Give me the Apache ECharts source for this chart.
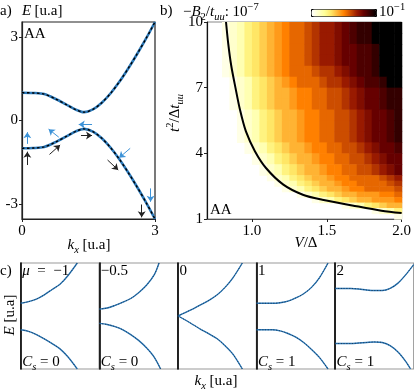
<!DOCTYPE html>
<html>
<head>
<meta charset="utf-8">
<script src="https://cdn.jsdelivr.net/npm/echarts@6.0.0/dist/echarts.min.js"></script>
<style>
  html, body { margin: 0; padding: 0; background: #fff; }
  #main { width: 414px; height: 390px; }
</style>
</head>
<body>
<div id="main"></div>
<script>
// ---- panel a : bands E(kx) ----
var kA = [0, 0.25, 0.5, 0.75, 1.0, 1.2, 1.4, 1.6, 1.8, 2.0, 2.2, 2.4, 2.6, 2.8, 3.0];
var bandUp = [1.0, 0.99, 0.95, 0.78, 0.57, 0.40, 0.30, 0.40, 0.64, 0.98, 1.40, 1.88, 2.40, 2.95, 3.54];
var bandDown = [-1.0, -0.99, -0.95, -0.78, -0.57, -0.40, -0.30, -0.40, -0.64, -0.98, -1.40, -1.88, -2.40, -2.95, -3.54];
// arrows: [k0, E0, k1, E1]
var blueArrows = [[0.12, -0.84, 0.12, -0.42], [0.83, -0.60, 0.60, -0.31], [1.58, -0.14, 1.28, -0.14], [2.44, -1.00, 2.19, -1.34], [2.90, -2.44, 2.90, -2.92]];
var blackArrows = [[0.12, -1.60, 0.12, -1.12], [0.62, -1.22, 0.86, -0.88], [1.33, -0.54, 1.58, -0.54], [1.93, -1.42, 2.17, -1.78], [2.70, -3.02, 2.70, -3.48]];

// ---- panel b : -B2/t_uu map (log10), levels 0..20, '.' = no data ----
var vEdges = [0.70, 0.75, 0.80, 0.85, 0.90, 0.95, 1.00, 1.05, 1.10, 1.15, 1.20, 1.25, 1.30, 1.35, 1.40, 1.45, 1.50, 1.55, 1.60, 1.65, 1.70, 1.75, 1.80, 1.85, 1.90, 1.95, 2.00];
var tEdges = [10, 9.5, 9, 8.5, 8, 7.5, 7, 6.5, 6, 5.5, 5, 4.5, 4, 3.5, 3, 2.75, 2.5, 2.25, 2, 1.75, 1.5, 1.25, 1];
var heatRows = [
  "..12356789abbcdeefghiikkkk",
  "..12356789abbcdeefghiikkkk",
  "..12356789abbcdeefgghhikkk",
  "..12356789abbcdeefgghhikkk",
  "..12356789abbbcddefghhikkk",
  "...12356789abbbcddefghhikk",
  "...123567889aabbccdefgghii",
  "...123567889aabbccdefgghii",
  "....123567889aabbccdefgghi",
  "....123567889aabbccdefgghi",
  "....123567889aabbccdefgghi",
  ".....123567889aabbccdefggh",
  "......123567889aabbccdefgg",
  ".......123567889aabbccdefg",
  "........123567889aabbbbcde",
  ".........123567889aabbbbcd",
  "..........123567889aabbbbc",
  "............12356788999aab",
  "..............12356788999a",
  "..................12356788",
  "......................1235",
  ".........................1"
];
var curveV = [0.827, 0.842, 0.862, 0.89, 0.92, 0.96, 1.02, 1.094, 1.21, 1.34, 1.47, 1.67, 1.865, 2.0];
var curveT = [10, 9, 8, 7, 6, 5, 4.1, 3.33, 2.57, 2.11, 1.88, 1.62, 1.38, 1.27];
var cmap = ['#ffffff', '#ffffcc', '#ffff99', '#ffe666', '#ffb333', '#ff8000', '#cc4d00', '#991a00', '#660000', '#330000', '#000000'];

// ---- panel c : five small band plots ----
var muLabels = ['−1', '−0.5', '0', '1', '2'];
var chernLabels = ['0', '0', '', '1', '1'];
var cKUp = [
  [0, 0.1, 0.2, 0.3, 0.4, 0.5, 0.6, 0.72],
  [0, 0.1, 0.2, 0.3, 0.4, 0.5, 0.6, 0.7, 0.76],
  [0, 0.1, 0.2, 0.3, 0.4, 0.5, 0.6, 0.7, 0.82],
  [0, 0.1, 0.2, 0.3, 0.4, 0.5, 0.6, 0.7, 0.8, 0.91],
  [0, 0.1, 0.2, 0.3, 0.4, 0.5, 0.6, 0.7, 0.8, 0.9, 1.0]
];
var cEUp = [
  [0.24, 0.27, 0.32, 0.40, 0.50, 0.60, 0.76, 1.0],
  [0.13, 0.15, 0.20, 0.26, 0.33, 0.44, 0.58, 0.78, 1.0],
  [0, 0.07, 0.14, 0.22, 0.30, 0.40, 0.54, 0.72, 1.0],
  [0.24, 0.24, 0.24, 0.25, 0.28, 0.34, 0.42, 0.54, 0.72, 1.0],
  [0.52, 0.52, 0.52, 0.51, 0.49, 0.48, 0.48, 0.52, 0.62, 0.78, 0.97]
];
var cKLo = [
  [0, 0.1, 0.2, 0.3, 0.4, 0.5, 0.6, 0.72],
  [0, 0.1, 0.2, 0.3, 0.4, 0.5, 0.6, 0.7, 0.78],
  [0, 0.1, 0.2, 0.3, 0.4, 0.5, 0.6, 0.7, 0.82],
  [0, 0.1, 0.2, 0.3, 0.4, 0.5, 0.6, 0.7, 0.8, 0.91],
  [0, 0.1, 0.2, 0.3, 0.4, 0.5, 0.6, 0.7, 0.8, 0.9, 0.96]
];
var cELo = [
  [-0.26, -0.29, -0.35, -0.43, -0.52, -0.62, -0.77, -1.0],
  [-0.14, -0.16, -0.20, -0.26, -0.35, -0.46, -0.60, -0.78, -1.0],
  [0, -0.08, -0.17, -0.26, -0.34, -0.43, -0.56, -0.72, -1.0],
  [-0.26, -0.26, -0.26, -0.28, -0.33, -0.40, -0.50, -0.63, -0.78, -1.0],
  [-0.52, -0.52, -0.52, -0.51, -0.50, -0.49, -0.50, -0.56, -0.68, -0.86, -1.0]
];

var F = 'Liberation Serif';
var BLUE = '#2b78b8';

function zip(xs, ys) {
  return xs.map(function (x, i) { return [x, ys[i]]; });
}

var chart = echarts.init(document.getElementById('main'));

var grids = [
  { left: 22, top: 22, width: 133, height: 197, show: true, borderColor: '#222', borderWidth: 1.2 },
  { left: 207, top: 22, width: 199, height: 197, show: true, borderColor: '#888', borderWidth: 1 }
];
var xAxes = [
  {
    gridIndex: 0, type: 'value', min: 0, max: 3,
    axisLine: { onZero: false, lineStyle: { color: '#222', width: 1.2 } },
    axisTick: { customValues: [0, 3], length: 3, lineStyle: { color: '#222' } },
    axisLabel: { customValues: [0, 3], fontSize: 15, fontFamily: F, color: '#000', margin: 5 },
    splitLine: { show: false }
  },
  {
    gridIndex: 1, type: 'value', min: 0.7, max: 2.0,
    axisLine: { onZero: false, lineStyle: { color: '#555', width: 1 } },
    axisTick: { customValues: [1, 1.5, 2], length: 3, lineStyle: { color: '#222' } },
    axisLabel: { customValues: [1, 1.5, 2], fontSize: 15, fontFamily: F, color: '#000', margin: 5,
      formatter: function (v) { return v.toFixed(1); } },
    splitLine: { show: false }
  }
];
var yAxes = [
  {
    gridIndex: 0, type: 'value', min: -3.54, max: 3.54,
    axisLine: { onZero: false, lineStyle: { color: '#222', width: 1.2 } },
    axisTick: { customValues: [-3, 0, 3], length: 3, lineStyle: { color: '#222' } },
    axisLabel: { customValues: [-3, 0, 3], fontSize: 15, fontFamily: F, color: '#000', margin: 4 },
    splitLine: { show: false }
  },
  {
    gridIndex: 1, type: 'value', min: 1, max: 10,
    axisLine: { onZero: false, lineStyle: { color: '#111', width: 1.2 } },
    axisTick: { customValues: [1, 4, 7, 10], length: 3, lineStyle: { color: '#222' } },
    axisLabel: { customValues: [1, 4, 7, 10], fontSize: 15, fontFamily: F, color: '#000', margin: 4 },
    splitLine: { show: false }
  }
];
for (var i = 0; i < 5; i++) {
  grids.push({ left: 20.7 + 78.6 * i, top: 263, width: 78.6, height: 106, show: true, borderColor: '#999', borderWidth: 1.2 });
  xAxes.push({ gridIndex: i + 2, type: 'value', min: 0, max: 1, axisLine: { show: false, onZero: false },
    axisTick: { show: false }, axisLabel: { show: false }, splitLine: { show: false } });
  yAxes.push({ gridIndex: i + 2, type: 'value', min: -1, max: 1,
    axisLine: { onZero: false, lineStyle: { color: '#000', width: 1.6 } },
    axisTick: { show: false }, axisLabel: { show: false }, splitLine: { show: false } });
}

var series = [];
// panel a bands: blue line with a black dashed line on top
[bandUp, bandDown].forEach(function (b) {
  series.push({ type: 'line', xAxisIndex: 0, yAxisIndex: 0, data: zip(kA, b), smooth: 0.3, showSymbol: false,
    lineStyle: { color: BLUE, width: 2.6 }, z: 3 });
  series.push({ type: 'line', xAxisIndex: 0, yAxisIndex: 0, data: zip(kA, b), smooth: 0.3, showSymbol: false,
    lineStyle: { color: '#000', width: 1.4, type: [2.5, 2.5] }, z: 4 });
});
[[blueArrows, '#3d93d8'], [blackArrows, '#222']].forEach(function (p) {
  series.push({
    type: 'lines', coordinateSystem: 'cartesian2d', xAxisIndex: 0, yAxisIndex: 0,
    symbol: ['none', 'arrow'], symbolSize: 6,
    lineStyle: { color: p[1], width: 1, opacity: 1, curveness: 0 },
    data: p[0].map(function (a) { return { coords: [[a[0], a[1]], [a[2], a[3]]] }; }),
    z: 5
  });
});

// panel b heat map cells
var heatData = [];
heatRows.forEach(function (row, r) {
  for (var j = 0; j < row.length; j++) {
    var ch = row[j];
    if (ch === '.') continue;
    var level = parseInt(ch, 36);
    heatData.push([vEdges[j], vEdges[j + 1], tEdges[r + 1], tEdges[r], -7 + 6 * level / 20]);
  }
});
var heatIndex = series.length;
series.push({
  type: 'custom', xAxisIndex: 1, yAxisIndex: 1,
  encode: { x: [0, 1], y: [2, 3] },
  data: heatData,
  renderItem: function (params, api) {
    var a = api.coord([api.value(0), api.value(3)]);
    var b = api.coord([api.value(1), api.value(2)]);
    return {
      type: 'rect',
      shape: { x: a[0], y: a[1], width: b[0] - a[0] + 0.6, height: b[1] - a[1] + 0.6 },
      style: { fill: api.visual('color') }
    };
  },
  z: 1
});
series.push({ type: 'line', xAxisIndex: 1, yAxisIndex: 1, data: zip(curveV, curveT), smooth: 0.3,
  showSymbol: false, lineStyle: { color: '#000', width: 2 }, z: 5 });

// panel c
for (var p = 0; p < 5; p++) {
  [[cKUp[p], cEUp[p]], [cKLo[p], cELo[p]]].forEach(function (c) {
    series.push({ type: 'line', xAxisIndex: p + 2, yAxisIndex: p + 2, data: zip(c[0], c[1]), smooth: 0.3,
      showSymbol: false, lineStyle: { color: BLUE, width: 1.4 }, z: 3 });
    series.push({ type: 'line', xAxisIndex: p + 2, yAxisIndex: p + 2, data: zip(c[0], c[1]), smooth: 0.3,
      showSymbol: false, lineStyle: { color: '#18324d', width: 0.8, type: [1.2, 1.6] }, z: 4 });
  });
}

// text labels
var rich = {
  r: { fontFamily: F, fontSize: 15, lineHeight: 20, color: '#000' },
  i: { fontFamily: F, fontSize: 15, fontStyle: 'italic', lineHeight: 20, color: '#000' },
  s: { fontFamily: F, fontSize: 10.5, fontStyle: 'italic', verticalAlign: 'bottom', height: 9, color: '#000' },
  sr: { fontFamily: F, fontSize: 10.5, verticalAlign: 'bottom', height: 9, color: '#000' },
  p: { fontFamily: F, fontSize: 10.5, verticalAlign: 'top', height: 11, color: '#000' }
};
function label(x, y, text, align, rot) {
  return {
    type: 'text', x: x, y: y, rotation: rot || 0, z: 20,
    style: { text: text, rich: rich, align: align || 'left', verticalAlign: 'middle', fill: '#000' }
  };
}
var graphics = [
  label(0, 11, '{r|a)}'),
  label(22, 11, '{i|E} {r|[u.a]}'),
  label(24, 34, '{r|AA}'),
  label(89, 245, '{i|k}{s|x}{r| [u.a]}', 'center'),
  label(160, 11, '{r|b)}'),
  label(183, 12, '{r|−}{i|B}{sr|2}{r|/}{i|t}{s|uu}{r|: 10}{p|−7}'),
  label(379, 12, '{r|10}{p|−1}'),
  label(175, 113, '{i|t}{p|2}{r|/Δ}{i|t}{s|uu}', 'center', Math.PI / 2),
  label(306, 243, '{i|V}{r|/Δ}', 'center'),
  label(210, 210, '{r|AA}'),
  label(0, 271, '{r|c)}'),
  label(10, 315, '{i|E}{r| [u.a]}', 'center', Math.PI / 2),
  label(216, 381, '{i|k}{s|x}{r| [u.a]}', 'center')
];
for (var q = 0; q < 5; q++) {
  var gx = 20.7 + 78.6 * q + 1.5;
  graphics.push(label(gx, 271, q === 0 ? '{i|μ}{r|  =  ' + muLabels[q] + '}' : '{r|' + muLabels[q] + '}'));
  if (chernLabels[q] !== '') {
    graphics.push(label(gx, 362, '{i|C}{s|s}{r| = ' + chernLabels[q] + '}'));
  }
}

var option = {
  animation: false,
  backgroundColor: '#fff',
  textStyle: { fontFamily: F },
  grid: grids,
  xAxis: xAxes,
  yAxis: yAxes,
  visualMap: [{
    type: 'continuous', seriesIndex: heatIndex, dimension: 4, min: -7, max: -1,
    orient: 'horizontal', left: 311, top: 9, itemWidth: 7, itemHeight: 65,
    calculable: false, hoverLink: false, padding: 0,
    borderColor: '#000', borderWidth: 1,
    inRange: { color: cmap }
  }],
  series: series,
  graphic: graphics
};
chart.setOption(option);
</script>
</body>
</html>
